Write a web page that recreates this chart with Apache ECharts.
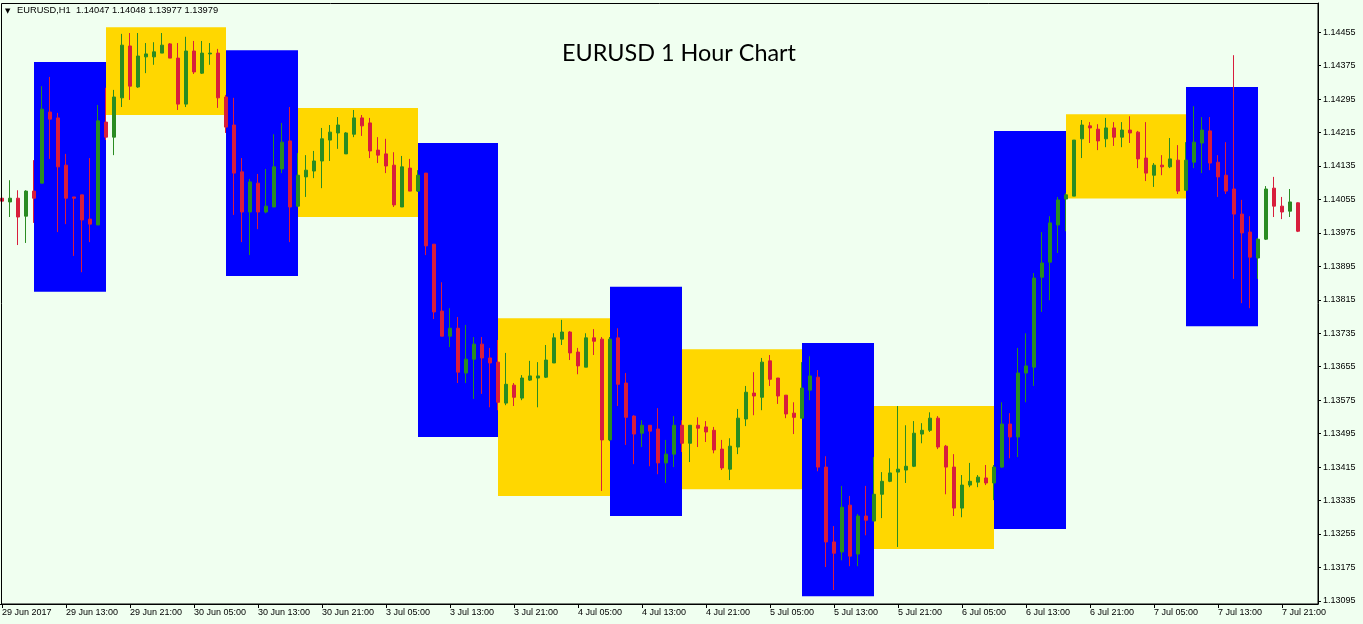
<!DOCTYPE html>
<html><head><meta charset="utf-8">
<script src="https://cdn.jsdelivr.net/npm/echarts@6/dist/echarts.min.js"></script>
<style>html,body{margin:0;padding:0;background:#F0FFF0;overflow:hidden;width:1363px;height:624px;position:relative}#chart{position:absolute;left:-2px;top:0;width:1365px;height:624px}</style>
</head><body><div id="chart"></div>
<script>
const symbolName = 'EURUSD,H1';
const chartTitle = 'EURUSD 1 Hour Chart';
// trading days shown: [day label, first hour on chart]
const tradingDays = [['29 Jun',5],['30 Jun',0],['3 Jul',0],['4 Jul',0],['5 Jul',0],['6 Jul',0],['7 Jul',0]];
const timeTickLabels = ['29 Jun 2017','29 Jun 13:00','29 Jun 21:00','30 Jun 05:00','30 Jun 13:00','30 Jun 21:00','3 Jul 05:00','3 Jul 13:00','3 Jul 21:00','4 Jul 05:00','4 Jul 13:00','4 Jul 21:00','5 Jul 05:00','5 Jul 13:00','5 Jul 21:00','6 Jul 05:00','6 Jul 13:00','6 Jul 21:00','7 Jul 05:00','7 Jul 13:00','7 Jul 21:00'];
const priceTickLabels = [1.13095,1.13175,1.13255,1.13335,1.13415,1.13495,1.13575,1.13655,1.13735,1.13815,1.13895,1.13975,1.14055,1.14135,1.14215,1.14295,1.14375,1.14455];

const opens = [1.14058,1.14049,1.14058,1.14015,1.14075,1.14094,1.14264,1.14250,1.14137,1.14061,1.14066,1.14008,1.13994,1.14240,1.14204,1.14298,1.14422,1.14324,1.14396,1.14396,
1.14405,1.14427,1.14393,1.14283,1.14410,1.14357,1.14403,1.14405,1.14300,1.14233,1.14121,1.14025,1.14094,1.14025,1.14037,1.14128,1.14195,1.14039,1.14109,1.14123,
1.14147,1.14197,1.14214,1.14164,1.14211,1.14250,1.14238,1.14173,1.14164,1.14137,1.14037,1.14130,1.14075,1.14118,1.13948,1.13788,1.13728,1.13747,1.13640,1.13673,
1.13709,1.13676,1.13666,1.13568,1.13611,1.13580,1.13623,1.13628,1.13630,1.13664,1.13721,1.13738,1.13690,1.13654,1.13724,1.13721,1.13480,1.13724,1.13616,1.13537,
1.13496,1.13515,1.13506,1.13425,1.13446,1.13515,1.13472,1.13515,1.13511,1.13503,1.13458,1.13410,1.13463,1.13530,1.13592,1.13582,1.13669,1.13628,1.13587,1.13544,
1.13532,1.13599,1.13630,1.13415,1.13236,1.13212,1.13324,1.13207,1.13298,1.13286,1.13350,1.13381,1.13403,1.13408,1.13417,1.13494,1.13503,1.13532,1.13465,1.13415,
1.13317,1.13372,1.13379,1.13389,1.13377,1.13415,1.13518,1.13487,1.13640,1.13654,1.13869,1.13905,1.13994,1.14056,1.14063,1.14200,1.14231,1.14223,1.14200,1.14226,
1.14204,1.14221,1.14216,1.14154,1.14113,1.14137,1.14133,1.14149,1.14077,1.14144,1.14190,1.14219,1.14144,1.14113,1.14080,1.14020,1.13977,1.13915,1.13960,1.14082,
1.14039,1.14027,1.14047];
const closes = [1.14051,1.14058,1.14013,1.14075,1.14058,1.14271,1.14247,1.14133,1.14058,1.14058,1.14006,1.13996,1.14243,1.14204,1.14300,1.14424,1.14326,1.14398,1.14403,1.14408,
1.14424,1.14393,1.14283,1.14410,1.14360,1.14405,1.14405,1.14298,1.14228,1.14118,1.14025,1.14097,1.14025,1.14039,1.14133,1.14192,1.14037,1.14113,1.14125,1.14147,
1.14200,1.14216,1.14233,1.14214,1.14250,1.14231,1.14171,1.14161,1.14135,1.14042,1.14133,1.14075,1.14113,1.13944,1.13786,1.13728,1.13747,1.13642,1.13673,1.13709,
1.13676,1.13664,1.13570,1.13613,1.13582,1.13628,1.13633,1.13633,1.13671,1.13724,1.13738,1.13688,1.13657,1.13724,1.13716,1.13480,1.13721,1.13613,1.13534,1.13494,
1.13515,1.13501,1.13425,1.13446,1.13515,1.13472,1.13515,1.13508,1.13499,1.13456,1.13413,1.13465,1.13532,1.13594,1.13585,1.13666,1.13625,1.13585,1.13542,1.13534,
1.13604,1.13633,1.13415,1.13236,1.13209,1.13319,1.13202,1.13298,1.13288,1.13350,1.13381,1.13401,1.13410,1.13417,1.13496,1.13503,1.13532,1.13463,1.13415,1.13317,
1.13372,1.13381,1.13391,1.13377,1.13415,1.13518,1.13487,1.13640,1.13657,1.13867,1.13903,1.13999,1.14054,1.14066,1.14197,1.14233,1.14226,1.14195,1.14226,1.14204,
1.14221,1.14214,1.14152,1.14118,1.14137,1.14133,1.14152,1.14075,1.14149,1.14192,1.14221,1.14142,1.14109,1.14075,1.14020,1.13975,1.13917,1.13960,1.14080,1.14039,
1.14025,1.14049,1.13979];
const lows = [1.14030,1.14013,1.13946,1.13951,1.13999,1.14094,1.14152,1.13977,1.13996,1.13920,1.13881,1.13953,1.13994,1.14197,1.14161,1.14276,1.14293,1.14322,1.14357,1.14377,
1.14405,1.14393,1.14269,1.14276,1.14355,1.14355,1.14377,1.14274,1.14214,1.14018,1.13953,1.13922,1.13984,1.14022,1.14037,1.14118,1.13953,1.14037,1.14061,1.14106,
1.14082,1.14147,1.14176,1.14164,1.14204,1.14207,1.14154,1.14142,1.14118,1.14037,1.14037,1.14075,1.14073,1.13922,1.13769,1.13728,1.13702,1.13616,1.13616,1.13578,
1.13590,1.13558,1.13551,1.13563,1.13561,1.13575,1.13621,1.13558,1.13628,1.13664,1.13707,1.13671,1.13637,1.13654,1.13683,1.13358,1.13477,1.13561,1.13468,1.13422,
1.13463,1.13417,1.13398,1.13377,1.13415,1.13451,1.13427,1.13463,1.13475,1.13448,1.13408,1.13384,1.13446,1.13513,1.13539,1.13551,1.13609,1.13566,1.13532,1.13494,
1.13532,1.13575,1.13405,1.13176,1.13121,1.13192,1.13178,1.13178,1.13252,1.13286,1.13293,1.13379,1.13224,1.13377,1.13415,1.13472,1.13499,1.13458,1.13350,1.13298,
1.13295,1.13367,1.13367,1.13372,1.13336,1.13413,1.13436,1.13439,1.13570,1.13609,1.13786,1.13814,1.13927,1.13979,1.14063,1.14154,1.14190,1.14173,1.14180,1.14183,
1.14180,1.14190,1.14130,1.14099,1.14085,1.14113,1.14130,1.14068,1.14077,1.14130,1.14118,1.14125,1.14061,1.14068,1.13865,1.13807,1.13795,1.13865,1.13958,1.14013,
1.14008,1.14013,1.13977];
const highs = [1.14192,1.14101,1.14077,1.14077,1.14149,1.14326,1.14348,1.14262,1.14164,1.14061,1.14066,1.14154,1.14281,1.14322,1.14317,1.14451,1.14453,1.14453,1.14429,1.14431,
1.14453,1.14429,1.14429,1.14444,1.14434,1.14434,1.14429,1.14415,1.14305,1.14298,1.14154,1.14104,1.14116,1.14128,1.14211,1.14238,1.14276,1.14166,1.14161,1.14171,
1.14226,1.14233,1.14252,1.14216,1.14269,1.14257,1.14250,1.14204,1.14200,1.14168,1.14159,1.14152,1.14125,1.14118,1.13948,1.13857,1.13795,1.13774,1.13755,1.13726,
1.13726,1.13700,1.13719,1.13688,1.13616,1.13635,1.13669,1.13666,1.13707,1.13735,1.13767,1.13740,1.13700,1.13735,1.13745,1.13726,1.13726,1.13747,1.13640,1.13539,
1.13527,1.13515,1.13556,1.13480,1.13537,1.13527,1.13515,1.13534,1.13525,1.13511,1.13480,1.13484,1.13554,1.13609,1.13642,1.13676,1.13683,1.13628,1.13587,1.13570,
1.13666,1.13680,1.13647,1.13441,1.13274,1.13370,1.13346,1.13303,1.13370,1.13439,1.13403,1.13436,1.13561,1.13515,1.13525,1.13520,1.13546,1.13537,1.13468,1.13446,
1.13396,1.13425,1.13396,1.13420,1.13420,1.13570,1.13544,1.13700,1.13735,1.13879,1.13977,1.14015,1.14061,1.14070,1.14197,1.14245,1.14240,1.14235,1.14250,1.14240,
1.14240,1.14254,1.14219,1.14240,1.14142,1.14161,1.14202,1.14185,1.14192,1.14278,1.14252,1.14252,1.14161,1.14192,1.14400,1.14054,1.14015,1.13963,1.14087,1.14109,
1.14061,1.14080,1.14048];

// session boxes: bar index where each starts/ends, and its upper/lower price
const boxStart = [4,13,28,37,52,62,76,85,100,109,124,133,148];
const boxEnd   = [13,28,37,52,62,76,85,100,109,124,133,148,157];
const boxHigh  = [1.14384,1.14467,1.14412,1.14274,1.14190,1.13771,1.13846,1.13697,1.13712,1.13561,1.14219,1.14259,1.14324];
const boxLow   = [1.13834,1.14257,1.13872,1.14013,1.13487,1.13346,1.13298,1.13362,1.13106,1.13219,1.13267,1.14057,1.13752];

// ---- build categories ----
const categories = [];
tradingDays.forEach(([d, h0]) => { for (let h = h0; h < 24; h++) categories.push(d + ' ' + String(h).padStart(2, '0') + ':00'); });
categories.push('', ''); // chart shift space

const candleData = opens.map((o, i) => [o, closes[i], lows[i], highs[i]]);
const boxData = boxStart.map((s, i) => [s, boxEnd[i], boxHigh[i], boxLow[i], i % 2]);
const last = opens.length - 1;
const headerText = symbolName + '  ' + [opens[last], highs[last], lows[last], closes[last]].map(v => v.toFixed(5)).join(' ');

const UP = '#2A8C22', DOWN = '#D81E3C';
const BOX = ['#0000FF', '#FFD700'];
const FONT = 'Liberation Sans';

const chart = echarts.init(document.getElementById('chart'), null, { renderer: 'canvas' });
chart.setOption({
  animation: false,
  backgroundColor: '#F0FFF0',
  grid: { left: 0, right: 45, top: 3, bottom: 20, containLabel: false },
  title: {
    text: chartTitle, left: 559, top: 37,
    textStyle: { fontFamily: 'Lato', fontSize: 23.4, fontWeight: 'normal', color: '#000' }
  },
  xAxis: {
    type: 'category', data: categories, boundaryGap: true,
    axisLine: { show: true, lineStyle: { color: '#000', width: 1 } },
    axisTick: { show: true, alignWithLabel: true, interval: 7, length: 4, lineStyle: { color: '#000' } },
    axisLabel: {
      interval: 7, align: 'left', margin: 4, color: '#000', fontFamily: FONT, fontSize: 9,
      formatter: (v, i) => timeTickLabels[i / 8] || ''
    },
    splitLine: { show: false }
  },
  yAxis: {
    type: 'value', position: 'right', scale: true,
    min: 1.130876, max: 1.145248,
    axisLine: { show: true, lineStyle: { color: '#000', width: 1 } },
    axisTick: { show: true, length: 3, customValues: priceTickLabels, lineStyle: { color: '#000' } },
    axisLabel: { customValues: priceTickLabels, margin: 5, color: '#000', fontFamily: FONT, fontSize: 9, formatter: v => v.toFixed(5) },
    splitLine: { show: false }
  },
  graphic: [
    { type: 'rect', z: 100, silent: true, shape: { x: 3.5, y: 3.5, width: 1316.5, height: 600.5 }, style: { fill: 'none', stroke: '#000', lineWidth: 1 } },
    { type: 'text', z: 100, left: 7, top: 8, style: { text: '\u25BC', fontSize: 7, fill: '#000', fontFamily: 'DejaVu Sans' } },
    { type: 'text', z: 100, left: 19, top: 6, style: { text: headerText, fontSize: 9.3, fill: '#000', fontFamily: FONT } }
  ],
  series: [
    {
      type: 'custom', name: 'sessions', z: 1, silent: true,
      data: boxData,
      encode: { x: [0, 1], y: [2, 3] },
      renderItem: (params, api) => {
        const p1 = api.coord([api.value(0), api.value(2)]);
        const p2 = api.coord([api.value(1), api.value(3)]);
        return { type: 'rect', shape: { x: p1[0], y: p1[1], width: p2[0] - p1[0], height: p2[1] - p1[1] }, style: { fill: BOX[api.value(4)] } };
      }
    },
    {
      type: 'candlestick', name: symbolName, z: 2, barWidth: 4,
      data: candleData,
      itemStyle: { color: UP, color0: DOWN, borderColor: UP, borderColor0: DOWN, borderWidth: 1 },
      markLine: {
        silent: true, symbol: 'none', animation: false,
        lineStyle: { opacity: 0 },
        data: [{ yAxis: closes[last] }],
        label: {
          position: 'end', distance: 1, formatter: p => Number(p.value).toFixed(5),
          backgroundColor: '#000', color: '#fff', padding: [2, 3, 1, 3], fontFamily: FONT, fontSize: 9
        }
      }
    }
  ]
});
</script></body></html>
